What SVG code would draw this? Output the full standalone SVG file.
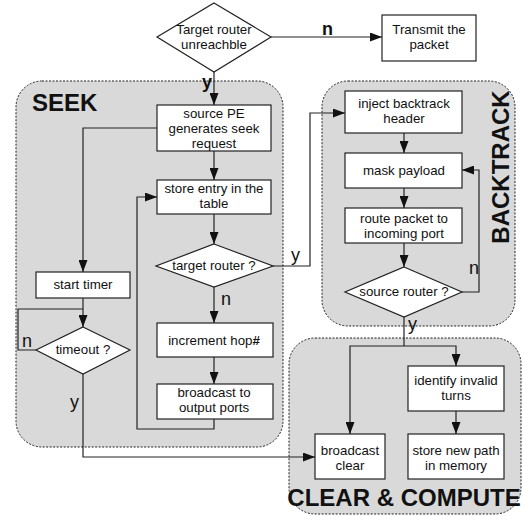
<svg xmlns="http://www.w3.org/2000/svg" width="524" height="516" viewBox="0 0 524 516">
<style>
.grp{fill:#d9d9d9;stroke:#222;stroke-width:1;stroke-dasharray:2,1.5}
.box{fill:#fff;stroke:#222;stroke-width:1.2}
.t{font-family:"Liberation Sans",Arial,sans-serif;font-size:13.3px;fill:#111;text-anchor:middle}
.lbl{font-family:"Liberation Sans",Arial,sans-serif;font-size:24px;font-weight:bold;fill:#111}
.yn{font-family:"Liberation Sans",Arial,sans-serif;font-size:18px;fill:#111}
.ynb{font-family:"Liberation Sans",Arial,sans-serif;font-size:18px;font-weight:bold;fill:#111}
.c{fill:none;stroke:#222;stroke-width:1.2}
</style>
<defs>
<marker id="ah" markerWidth="12" markerHeight="9" refX="12" refY="4.5" orient="auto" markerUnits="userSpaceOnUse"><path d="M0,0 L12,4.5 L0,9 z" fill="#111"/></marker>
</defs>
<g id="groups">
<rect id="seek" class="grp" x="16" y="81" width="267" height="366" rx="26"/>
<rect id="backtrack" class="grp" x="322" y="81" width="193" height="245" rx="26"/>
<rect id="clear" class="grp" x="289" y="338" width="232" height="176" rx="26"/>
<text class="lbl" x="32" y="111">SEEK</text>
<text class="lbl" font-size="22" transform="translate(509,167) rotate(-90)" text-anchor="middle">BACKTRACK</text>
<text class="lbl" x="404" y="506" text-anchor="middle" font-size="23">CLEAR &amp; COMPUTE</text>
</g>
<g id="connectors">
<path class="c" d="M271,37 H382" marker-end="url(#ah)"/>
<path class="c" d="M214,72 V105" marker-end="url(#ah)"/>
<path class="c" d="M214,151 V180" marker-end="url(#ah)"/>
<path class="c" d="M157,128 H83 V272" marker-end="url(#ah)"/>
<path class="c" d="M83,298 V327" marker-end="url(#ah)"/>
<path class="c" d="M36,350 H18 V309 H83"/>
<path class="c" d="M83,374 V457 H315" marker-end="url(#ah)"/>
<path class="c" d="M214,214 V244" marker-end="url(#ah)"/>
<path class="c" d="M273,266 H310 V113 H345" marker-end="url(#ah)"/>
<path class="c" d="M214,287 V323" marker-end="url(#ah)"/>
<path class="c" d="M214,357 V384" marker-end="url(#ah)"/>
<path class="c" d="M214,419 V429 H137 V197 H157" marker-end="url(#ah)"/>
<path class="c" d="M404,133 V153" marker-end="url(#ah)"/>
<path class="c" d="M404,188 V208" marker-end="url(#ah)"/>
<path class="c" d="M404,243 V267" marker-end="url(#ah)"/>
<path class="c" d="M462,292 H479 V170 H462" marker-end="url(#ah)"/>
<path class="c" d="M404,317 V346"/>
<path class="c" d="M404,346 H350 V434" marker-end="url(#ah)"/>
<path class="c" d="M404,346 H456 V366" marker-end="url(#ah)"/>
<path class="c" d="M456,411 V434" marker-end="url(#ah)"/>
<text class="ynb" x="322" y="35">n</text>
<text class="ynb" x="202" y="88">y</text>
<text class="yn" x="221" y="305">n</text>
<text class="yn" x="291" y="261">y</text>
<text class="yn" x="22" y="347">n</text>
<text class="yn" x="70" y="408">y</text>
<text class="yn" x="469" y="274">n</text>
<text class="yn" x="408" y="330">y</text>
</g>
<g id="n-unreach"><polygon class="box" points="214,3 271,37 214,72 157,37"/><text class="t" x="214" y="34">Target router</text><text class="t" x="214" y="49">unreachble</text></g>
<g id="n-transmit"><rect class="box" x="382" y="15" width="94" height="46"/><text class="t" x="429" y="34">Transmit the</text><text class="t" x="429" y="49">packet</text></g>
<g id="n-source"><rect class="box" x="157" y="105" width="114" height="46"/><text class="t" x="214" y="118">source PE</text><text class="t" x="214" y="133">generates seek</text><text class="t" x="214" y="148">request</text></g>
<g id="n-store"><rect class="box" x="157" y="180" width="114" height="34"/><text class="t" x="214" y="193">store entry in the</text><text class="t" x="214" y="208">table</text></g>
<g id="n-target"><polygon class="box" points="214,244 273,266 214,287 156,266"/><text class="t" x="214" y="270">target router ?</text></g>
<g id="n-inc"><rect class="box" x="157" y="323" width="116" height="34"/><text class="t" x="214" y="345">increment hop<tspan font-weight="bold">#</tspan></text></g>
<g id="n-bcast"><rect class="box" x="157" y="384" width="116" height="35"/><text class="t" x="214" y="397">broadcast to</text><text class="t" x="214" y="412">output ports</text></g>
<g id="n-timer"><rect class="box" x="36" y="272" width="94" height="26"/><text class="t" x="83" y="289">start timer</text></g>
<g id="n-timeout"><polygon class="box" points="83,327 130,350 83,374 36,350"/><text class="t" x="83" y="354">timeout ?</text></g>
<g id="n-inject"><rect class="box" x="345" y="91" width="117" height="42"/><text class="t" x="404" y="108">inject backtrack</text><text class="t" x="404" y="123">header</text></g>
<g id="n-mask"><rect class="box" x="345" y="153" width="117" height="35"/><text class="t" x="404" y="175">mask payload</text></g>
<g id="n-route"><rect class="box" x="345" y="208" width="117" height="35"/><text class="t" x="404" y="223">route packet to</text><text class="t" x="404" y="238">incoming port</text></g>
<g id="n-srcrouter"><polygon class="box" points="404,267 462,292 404,317 345,292"/><text class="t" x="404" y="296">source router ?</text></g>
<g id="n-identify"><rect class="box" x="408" y="366" width="96" height="45"/><text class="t" x="456" y="385">identify invalid</text><text class="t" x="456" y="400">turns</text></g>
<g id="n-bclear"><rect class="box" x="315" y="434" width="70" height="45"/><text class="t" x="350" y="455">broadcast</text><text class="t" x="350" y="470">clear</text></g>
<g id="n-storepath"><rect class="box" x="408" y="434" width="96" height="45"/><text class="t" x="456" y="455">store new path</text><text class="t" x="456" y="470">in memory</text></g>
</svg>
